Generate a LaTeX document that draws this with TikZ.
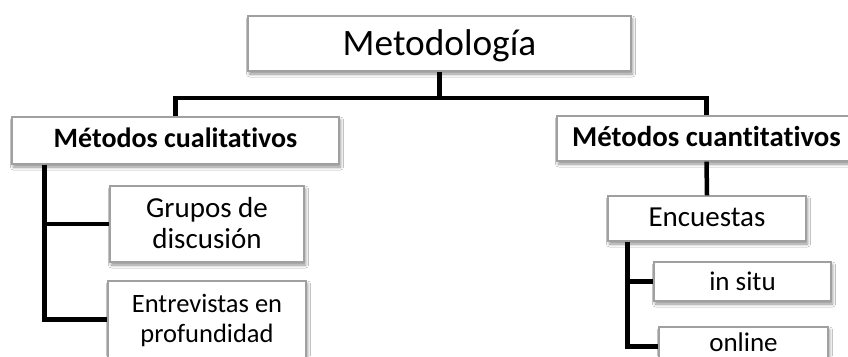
\documentclass[tikz,border=0pt]{standalone}
\usepackage{fontspec}
\setmainfont{Carlito}[Ligatures=NoCommon]
\usetikzlibrary{shadows.blur}
\definecolor{boxline}{HTML}{A0A0A0}
\tikzset{
  box/.style={draw=boxline, line width=1.1pt, fill=white, rectangle, inner sep=0pt,
    text depth=0pt,
    blur shadow={shadow blur steps=6, shadow xshift=1.5pt, shadow yshift=-3pt, shadow opacity=45, shadow blur radius=3pt}},
  conn/.style={line width=4.5pt, black},
}
\newcommand{\twolines}[2]{\begin{tabular}[b]{@{}c@{}}#1\\#2\end{tabular}}
\begin{document}
\begin{tikzpicture}[x=1pt,y=-1pt]
\useasboundingbox (0,0) rectangle (848,356);
\clip (0,0) rectangle (848,356);
\fill[white] (0,0) rectangle (848,356);
% nodes
\node[box, minimum width=383pt, minimum height=55pt, text height=23pt, font=\fontsize{37.3}{40}\selectfont] (meta) at (439.5,43.5) {Metodología};
\node[box, minimum width=327pt, minimum height=47pt, text height=14pt, font=\fontsize{28}{30}\selectfont\bfseries] (qual) at (175.5,140.5) {Métodos cualitativos};
\node[box, minimum width=299pt, minimum height=45pt, text height=16pt, font=\fontsize{28.8}{30}\selectfont\bfseries] (quan) at (706.5,138.5) {Métodos cuantitativos};
\node[box, minimum width=194pt, minimum height=76pt, text height=48pt, font=\fontsize{29}{31}\selectfont] (grupos) at (207,224) {\twolines{Grupos de}{discusión}};
\node[box, minimum width=198pt, minimum height=77pt, text height=45pt, font=\fontsize{26.5}{29.5}\selectfont] (entrev) at (207,319.5) {\twolines{Entrevistas en}{profundidad}};
\node[box, minimum width=198pt, minimum height=45pt, text height=16pt, font=\fontsize{29}{31}\selectfont] (encu) at (707,218.5) {Encuestas};
\node[box, minimum width=177pt, minimum height=39pt, text height=17pt, font=\fontsize{27}{29}\selectfont] (insitu) at (742.5,281.5) {in situ};
\node[box, minimum width=169pt, minimum height=39pt, text height=9pt, font=\fontsize{27}{29}\selectfont] (online) at (743.5,346.5) {online};
% connectors
\coordinate (j) at (439.5,98);
\draw[conn] (meta.south) -- (j);
\draw[conn] (qual.north) |- (j) -| (quan.north);
\coordinate (qa) at ([xshift=33pt]qual.south west);
\draw[conn] (qa) |- (grupos.west);
\draw[conn] (qa) |- (entrev.west);
\draw[conn] (quan.south) -- (encu.north);
\coordinate (ea) at ([xshift=20pt]encu.south west);
\draw[conn] (ea) |- (insitu.west);
\draw[conn] (ea) |- (online.west);
\end{tikzpicture}
\end{document}
